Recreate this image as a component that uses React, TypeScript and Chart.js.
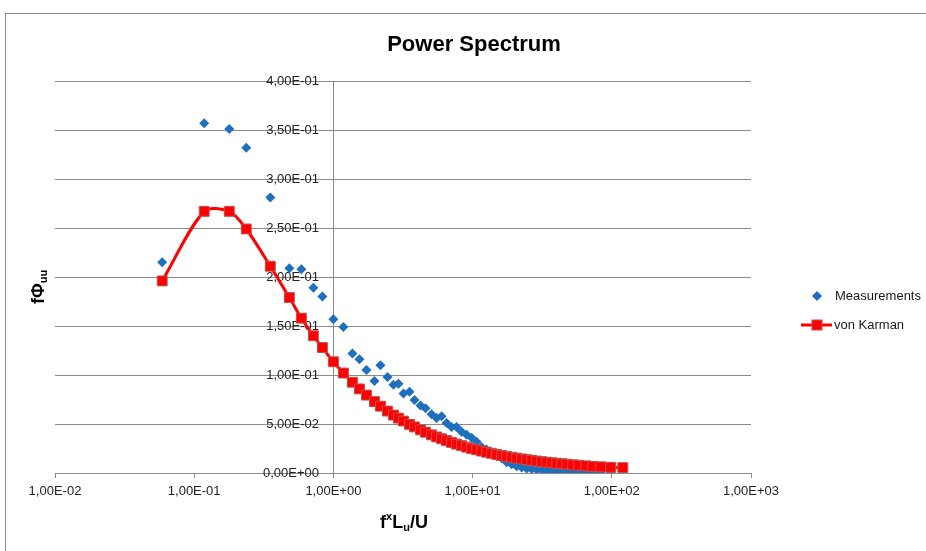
import React, { useEffect, useRef } from 'react';
import { Chart, registerables } from 'chart.js';

Chart.register(...registerables);

// ---- data ----
const chartTitle = 'Power Spectrum';
const seriesNames = ['Measurements', 'von Karman'];

const xValues = [
  0.0589, 0.118, 0.1786, 0.2366, 0.3521, 0.4826, 0.5886, 0.718, 0.8334, 1.0,
  1.18, 1.37, 1.538, 1.728, 1.972, 2.178, 2.446, 2.703, 2.935, 3.189,
  3.523, 3.825, 4.226, 4.591, 5.07, 5.508, 5.984, 6.501, 7.063, 7.672,
  8.335, 9.055, 9.836, 10.69, 11.61, 12.61, 13.7, 14.88, 16.17, 17.56,
  19.08, 20.73, 22.52, 24.46, 26.58, 28.87, 31.36, 34.07, 37.01, 40.21,
  43.68, 47.46, 52.42, 57.88, 65.03, 73.02, 83.37, 98.36, 120.0,
];

const measurements = [
  0.215, 0.357, 0.351, 0.332, 0.281, 0.209, 0.208, 0.189, 0.18, 0.157,
  0.149, 0.122, 0.116, 0.105, 0.094, 0.11, 0.098, 0.09, 0.091, 0.081,
  0.083, 0.0745, 0.069, 0.066, 0.06, 0.056, 0.058, 0.051, 0.047, 0.047,
  0.042, 0.039, 0.036, 0.032, 0.0265, 0.024, 0.02, 0.017, 0.015, 0.011,
  0.009, 0.007, 0.0055, 0.0045, 0.004, 0.0035, 0.003, 0.0028, 0.0025, 0.0022,
  0.002, 0.0019, 0.0018, 0.0017, 0.0016, 0.0015, 0.0014, 0.0013, 0.0012,
];

const vonKarman = [
  0.196, 0.267, 0.267, 0.249, 0.211, 0.179, 0.158, 0.14, 0.128, 0.1135,
  0.102, 0.0926, 0.0858, 0.0795, 0.0729, 0.0682, 0.0632, 0.0591, 0.056, 0.053,
  0.0496, 0.047, 0.044, 0.0416, 0.0389, 0.0368, 0.0349, 0.033, 0.0312, 0.0295,
  0.0279, 0.0264, 0.025, 0.0237, 0.0224, 0.0212, 0.0201, 0.019, 0.018, 0.017,
  0.0161, 0.0152, 0.0144, 0.0136, 0.0129, 0.0122, 0.0116, 0.011, 0.0105, 0.01,
  0.0095, 0.009, 0.0084, 0.0079, 0.0073, 0.0068, 0.0063, 0.0058, 0.0055,
];

const xTickValues = [0.01, 0.1, 1, 10, 100, 1000];
const yTickValues = [0, 0.05, 0.1, 0.15, 0.2, 0.25, 0.3, 0.35, 0.4];

// ---- helpers ----
function sci(v: number): string {
  if (Math.abs(v) < 1e-12) return '0,00E+00';
  const [m, e] = v.toExponential(2).split('e');
  const n = parseInt(e, 10);
  return m.replace('.', ',') + 'E' + (n < 0 ? '-' : '+') + String(Math.abs(n)).padStart(2, '0');
}

const FONT = '"Liberation Sans", Arial, sans-serif';
const BLUE = '#1f6fbf';
const RED = '#ff0000';
const GRID = '#8a8a8a';

type Seg = { t: string; size: number; dy: number };

function drawSegs(ctx: CanvasRenderingContext2D, segs: Seg[], cx: number, cy: number) {
  let total = 0;
  for (const s of segs) {
    ctx.font = `bold ${s.size}px ${FONT}`;
    total += ctx.measureText(s.t).width;
  }
  let x = cx - total / 2;
  ctx.textAlign = 'left';
  ctx.textBaseline = 'middle';
  for (const s of segs) {
    ctx.font = `bold ${s.size}px ${FONT}`;
    ctx.fillText(s.t, x, cy + s.dy);
    x += ctx.measureText(s.t).width;
  }
}

const decorPlugin = {
  id: 'decor',
  afterDraw(chart: any) {
    const ctx: CanvasRenderingContext2D = chart.ctx;
    ctx.save();
    ctx.fillStyle = '#000';
    // title
    ctx.font = `bold 22px ${FONT}`;
    ctx.textAlign = 'center';
    ctx.textBaseline = 'middle';
    ctx.fillText(chartTitle, 474, 45);

    // x-axis title
    drawSegs(ctx, [
      { t: 'f', size: 18, dy: 0 },
      { t: 'x', size: 11, dy: -6 },
      { t: 'L', size: 18, dy: 0 },
      { t: 'u', size: 11, dy: 5 },
      { t: '/U', size: 18, dy: 0 },
    ], 404, 523);

    // y-axis title (rotated)
    ctx.save();
    ctx.translate(39, 287);
    ctx.rotate(-Math.PI / 2);
    drawSegs(ctx, [
      { t: 'f\u03A6', size: 18, dy: 0 },
      { t: 'uu', size: 11, dy: 5 },
    ], 0, 0);
    ctx.restore();

    // legend
    ctx.font = `13px ${FONT}`;
    ctx.textAlign = 'left';
    ctx.textBaseline = 'middle';
    ctx.fillStyle = '#1a1a1a';
    // measurements
    const y1 = 296;
    ctx.save();
    ctx.fillStyle = BLUE;
    ctx.beginPath();
    ctx.moveTo(817 - 5, y1);
    ctx.lineTo(817, y1 - 5);
    ctx.lineTo(817 + 5, y1);
    ctx.lineTo(817, y1 + 5);
    ctx.closePath();
    ctx.fill();
    ctx.restore();
    ctx.fillText(seriesNames[0], 835, y1);
    // von Karman
    const y2 = 325;
    ctx.save();
    ctx.strokeStyle = RED;
    ctx.lineWidth = 3;
    ctx.beginPath();
    ctx.moveTo(801, y2);
    ctx.lineTo(832, y2);
    ctx.stroke();
    ctx.fillStyle = RED;
    ctx.fillRect(812, y2 - 5, 10, 10);
    ctx.strokeStyle = '#c0504d';
    ctx.lineWidth = 1;
    ctx.strokeRect(812, y2 - 5, 10, 10);
    ctx.restore();
    ctx.fillText(seriesNames[1], 834, y2);
    ctx.restore();
  },
};

export default function App() {
  const canvasRef = useRef<HTMLCanvasElement | null>(null);

  useEffect(() => {
    if (!canvasRef.current) return;
    const chart = new Chart(canvasRef.current, {
      type: 'scatter',
      data: {
        datasets: [
          {
            label: seriesNames[1],
            data: xValues.map((x, i) => ({ x, y: vonKarman[i] })),
            showLine: true,
            borderColor: RED,
            borderWidth: 3,
            tension: 0.3,
            pointStyle: 'rect',
            pointRadius: 7,
            pointBackgroundColor: RED,
            pointBorderColor: '#c0504d',
            pointBorderWidth: 1,
            order: 0,
          },
          {
            label: seriesNames[0],
            data: xValues.map((x, i) => ({ x, y: measurements[i] })),
            showLine: false,
            pointStyle: 'rectRot',
            pointRadius: 5,
            pointBackgroundColor: BLUE,
            pointBorderColor: BLUE,
            pointBorderWidth: 0,
            order: 1,
          },
        ],
      },
      options: {
        responsive: false,
        animation: false,
        devicePixelRatio: 1,
        layout: { padding: { left: 55, right: 175, top: 81, bottom: 38 } },
        plugins: {
          legend: { display: false },
          title: { display: false },
          tooltip: { enabled: false },
        },
        scales: {
          x: {
            type: 'logarithmic',
            position: 'bottom',
            min: 0.01,
            max: 1000,
            afterBuildTicks: (s: any) => {
              s.ticks = xTickValues.map((v) => ({ value: v }));
            },
            afterFit: (s: any) => {
              s.height = 40;
            },
            ticks: {
              callback: (v: any) => sci(Number(v)),
              font: { size: 13, family: FONT },
              color: '#222',
              padding: 6,
              maxRotation: 0,
              autoSkip: false,
            },
            grid: { drawOnChartArea: false, drawTicks: true, tickLength: 5, color: GRID },
            border: { display: true, color: GRID },
          },
          y: {
            type: 'linear',
            position: { x: 1 } as any,
            min: 0,
            max: 0.4,
            afterBuildTicks: (s: any) => {
              s.ticks = yTickValues.map((v) => ({ value: v }));
            },
            ticks: {
              // trailing spaces keep the labels clear of the centred axis line
              callback: (v: any) => sci(Number(v)) + '    ',
              font: { size: 13, family: FONT },
              color: '#222',
              padding: 12,
            },
            grid: { color: GRID, drawTicks: false },
            border: { display: true, color: GRID },
          },
        },
      },
      plugins: [decorPlugin],
    } as any);
    return () => chart.destroy();
  }, []);

  return (
    <div style={{ position: 'fixed', left: 0, top: 0, width: 926, height: 551, background: '#fff', overflow: 'hidden' }}>
      <div style={{ position: 'absolute', left: 5, top: 13, width: 2000, height: 2000, border: '1px solid #8c8c8c' }} />
      <canvas ref={canvasRef} width={926} height={551} style={{ position: 'absolute', left: 0, top: 0, width: 926, height: 551 }} />
    </div>
  );
}
